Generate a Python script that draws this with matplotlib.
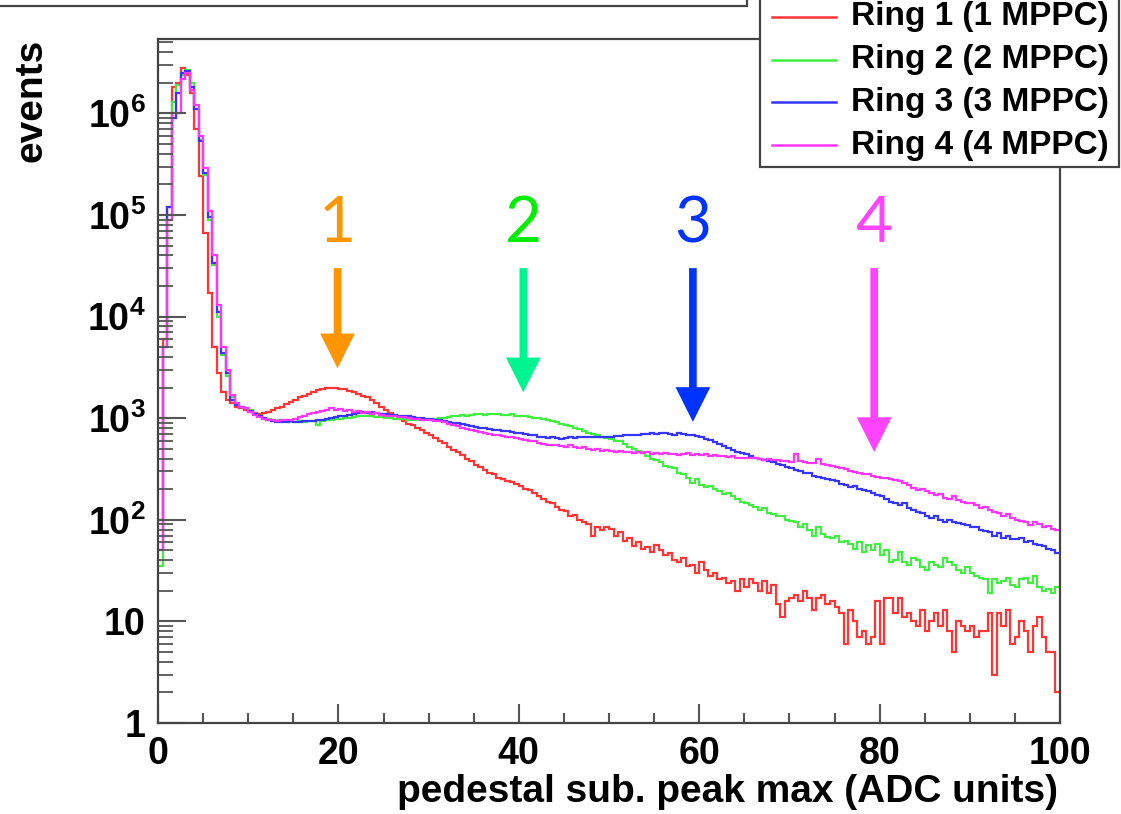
import numpy as np
import matplotlib.pyplot as plt
from matplotlib.ticker import MultipleLocator, LogLocator, FixedLocator, NullFormatter, FuncFormatter
from matplotlib.patches import Rectangle
from matplotlib.lines import Line2D

# bins of 0.5 ADC from 0 to 100
bin_edges = np.linspace(0, 100, 201)

ring1 = [50, 6000, 1.2e5, 1.8e6, 2.0e6, 2.8e6, 2.4e6, 1.6e6, 7.0e5, 2.4e5,
         6.6e4, 1.7e4, 5.0e3, 2.8e3, 1.8e3, 1.5e3, 1.4e3, 1.3e3, 1.25e3, 1.2e3,
         1150, 1120, 1100, 1120, 1150, 1200, 1250, 1300, 1380, 1450,
         1520, 1600, 1650, 1720, 1800, 1880, 1950, 2000, 2000, 2000,
         1950, 1950, 1850, 1800, 1750, 1650, 1600, 1500, 1420, 1300,
         1200, 1120, 1050, 990, 940, 880, 850, 800, 760, 720,
         680, 640, 600, 570, 520, 490, 470, 430, 400, 380,
         350, 330, 310, 290, 285, 260, 250, 240, 235, 225,
         215, 200, 195, 185, 170, 160, 150, 148, 135, 125,
         122, 110, 112, 100, 95, 90, 70, 84, 80, 85,
         82, 70, 75, 62, 66, 55, 60, 52, 54, 48,
         56, 50, 45, 47, 40, 38, 42, 35, 36, 30,
         38, 32, 28, 30, 26, 27, 24, 25, 20, 26,
         22, 26, 24, 20, 25, 19, 23, 15, 11, 16,
         17, 18, 16, 20, 17, 13, 17, 18, 15, 16,
         14, 12, 6, 13, 10, 7, 8, 6, 7, 16,
         6, 17, 17, 12, 17, 11, 12, 10, 9, 13,
         8, 10, 12, 9, 13, 8, 5, 10, 9, 8,
         9, 7, 8, 8, 12, 3, 12, 9, 13, 6,
         7, 10, 8, 5, 9, 11, 7, 5, 5, 2]

ring2 = [35, 5000, 1.0e5, 1.3e6, 1.9e6, 2.4e6, 2.7e6, 2.0e6, 1.1e6, 5.5e5,
         2.5e5, 9.0e4, 3.2e4, 1.0e4, 4.2e3, 2.6e3, 1.6e3, 1.4e3, 1.3e3, 1.25e3,
         1200, 1100, 1050, 1000, 980, 960, 950, 940, 930, 920,
         920, 930, 920, 940, 930, 860, 940, 950, 960, 980,
         990, 1000, 1010, 1020, 1040, 1050, 1050, 1040, 1030, 1020,
         1010, 1000, 990, 980, 980, 970, 970, 960, 970, 980,
         980, 990, 1000, 1010, 1030, 1040, 1050, 1070, 1060, 1080,
         1090, 1100, 1080, 1110, 1100, 1090, 1080, 1070, 1100, 1060,
         1050, 1040, 1020, 1010, 1000, 990, 960, 940, 920, 880,
         860, 830, 800, 780, 750, 720, 700, 680, 660, 640,
         630, 600, 590, 560, 520, 500, 480, 470, 420, 400,
         390, 370, 340, 330, 320, 290, 280, 260, 230, 250,
         220, 210, 215, 200, 190, 180, 185, 170, 160, 150,
         145, 140, 135, 125, 132, 118, 115, 108, 110, 100,
         98, 95, 85, 90, 80, 70, 85, 72, 68, 66,
         70, 60, 62, 58, 52, 60, 48, 56, 50, 58,
         45, 50, 38, 40, 48, 38, 36, 42, 40, 34,
         32, 38, 36, 34, 42, 38, 36, 32, 30, 34,
         30, 28, 27, 26, 19, 26, 24, 25, 27, 23,
         22, 26, 27, 24, 28, 22, 20, 21, 19, 22]

ring3 = [100, 5000, 1.2e5, 9.0e5, 1.6e6, 2.5e6, 2.6e6, 1.8e6, 1.1e6, 5.4e5,
         2.6e5, 9.5e4, 3.4e4, 1.1e4, 4.4e3, 2.8e3, 1.5e3, 1.35e3, 1.3e3, 1.25e3,
         1180, 1100, 1050, 1000, 960, 930, 920, 910, 920, 930,
         920, 920, 930, 940, 940, 950, 960, 980, 1000, 1020,
         1040, 1060, 1080, 1090, 1120, 1140, 1130, 1150, 1120, 1100,
         1100, 1080, 1070, 1060, 1050, 1040, 1030, 1010, 1000, 990,
         980, 970, 950, 945, 920, 900, 890, 870, 850, 840,
         820, 810, 800, 780, 770, 760, 740, 740, 730, 720,
         710, 700, 690, 680, 660, 650, 640, 650, 640, 630,
         640, 650, 640, 650, 660, 650, 660, 650, 660, 650,
         660, 670, 670, 680, 690, 680, 690, 700, 700, 710,
         700, 720, 710, 700, 690, 720, 700, 690, 680, 670,
         650, 630, 610, 580, 560, 530, 510, 490, 470, 455,
         440, 425, 410, 400, 390, 380, 370, 355, 345, 330,
         320, 310, 300, 290, 290, 270, 265, 255, 250, 245,
         240, 225, 220, 210, 215, 200, 195, 190, 185, 175,
         170, 160, 150, 145, 140, 145, 130, 125, 120, 118,
         110, 105, 108, 100, 95, 100, 96, 92, 90, 88,
         85, 84, 80, 78, 75, 70, 74, 66, 70, 65,
         64, 66, 60, 62, 58, 56, 55, 52, 50, 47]

ring4 = [50, 5000, 9.0e4, 1.0e6, 1.0e6, 2.2e6, 2.5e6, 1.7e6, 1.2e6, 6.0e5,
         2.9e5, 1.1e5, 4.0e4, 1.3e4, 5.0e3, 3.0e3, 1.7e3, 1.4e3, 1.3e3, 1.25e3,
         1150, 1080, 1020, 990, 960, 950, 940, 950, 960, 970,
         990, 1020, 1050, 1100, 1120, 1150, 1180, 1200, 1250, 1200,
         1220, 1180, 1200, 1150, 1170, 1130, 1150, 1100, 1120, 1080,
         1060, 1050, 1040, 1030, 1020, 1000, 990, 980, 970, 960,
         950, 940, 930, 910, 880, 850, 830, 810, 790, 760,
         740, 730, 720, 700, 690, 680, 670, 660, 650, 640,
         630, 610, 600, 590, 570, 560, 550, 545, 540, 530,
         525, 540, 520, 510, 520, 500, 490, 500, 480, 490,
         480, 470, 475, 460, 470, 455, 465, 450, 460, 445,
         450, 440, 455, 440, 445, 435, 440, 450, 435, 440,
         430, 440, 425, 430, 420, 425, 415, 420, 405, 410,
         410, 405, 410, 400, 390, 400, 385, 390, 380, 375,
         370, 440, 380, 370, 360, 365, 400, 355, 350, 340,
         330, 320, 315, 300, 295, 290, 285, 280, 270, 265,
         260, 255, 250, 245, 240, 230, 220, 205, 195, 200,
         190, 185, 175, 180, 165, 160, 170, 155, 150, 145,
         145, 140, 130, 135, 125, 120, 118, 110, 115, 105,
         100, 98, 95, 88, 96, 90, 85, 87, 82, 80]

series_names = ['Ring 1 (1 MPPC)', 'Ring 2 (2 MPPC)', 'Ring 3 (3 MPPC)', 'Ring 4 (4 MPPC)']
series_colors = ['#ff3535', '#40ee40', '#3535ff', '#ff35ff']

# peak markers: label, x position, arrow tip height
peak_labels = ['1', '2', '3', '4']
peak_x = [19.9, 40.5, 59.3, 79.4]
peak_tip = [3.1e3, 1.8e3, 920, 465]
label_colors = ['#ff9500', '#00ee00', '#0033ff', '#ff44ff']
arrow_colors = ['#ff9500', '#00f590', '#0033ff', '#ff44ff']

y_decades = [1, 10, 1e2, 1e3, 1e4, 1e5, 1e6]

plt.rcParams['font.family'] = ['Liberation Sans', 'DejaVu Sans']
plt.rcParams['font.weight'] = 'bold'
plt.rcParams['axes.labelweight'] = 'bold'
plt.rcParams['mathtext.fontset'] = 'custom'
plt.rcParams['mathtext.rm'] = 'Liberation Sans:bold'
plt.rcParams['mathtext.bf'] = 'Liberation Sans:bold'
plt.rcParams['mathtext.default'] = 'bf'

W, H = 1121, 814
fig = plt.figure(figsize=(W / 100, H / 100), dpi=100)
ax = fig.add_axes([158 / W, 1 - 723 / H, 902 / W, 684 / H])

for vals, col in zip([ring1, ring2, ring3, ring4], series_colors):
    ax.stairs(vals, bin_edges, baseline=None, color=col, lw=1.6)

ax.set_yscale('log')
ax.set_xlim(0, 100)
ax.set_ylim(1, 5.4e6)

for s in ax.spines.values():
    s.set_color('#444444')
    s.set_linewidth(1.6)

ax.xaxis.set_major_locator(MultipleLocator(20))
ax.xaxis.set_minor_locator(MultipleLocator(5))
ax.yaxis.set_major_locator(FixedLocator(y_decades))
ax.yaxis.set_minor_locator(LogLocator(base=10, subs=range(2, 10)))
ax.yaxis.set_minor_formatter(NullFormatter())


def ylab(v, pos):
    n = int(round(np.log10(v)))
    if n == 0:
        return '1'
    if n == 1:
        return '10'
    return r'$10^{%d}$' % n


ax.yaxis.set_major_formatter(FuncFormatter(ylab))
ax.tick_params(axis='x', which='major', direction='in', length=14, width=1.5,
               color='#555555', pad=9, labelsize=27)
ax.tick_params(axis='x', which='minor', direction='in', length=7, width=1.5, color='#555555')
ax.tick_params(axis='y', which='major', direction='in', length=20, width=1.5,
               color='#555555', pad=9, labelsize=27)
ax.tick_params(axis='y', which='minor', direction='in', length=11, width=1.3, color='#555555')

ax.set_xlabel('pedestal sub. peak max (ADC units)', fontsize=28, fontweight='bold', loc='right')
ax.xaxis.set_label_coords(0.998, -0.074)
ax.set_ylabel('events', fontsize=28, fontweight='bold', loc='top')
ax.yaxis.set_label_coords(-0.12, 1.0)

for lab, x, tip, tc, acol in zip(peak_labels, peak_x, peak_tip, label_colors, arrow_colors):
    ax.text(x, 5.4e4, lab, color=tc, fontsize=46, family='Lato', fontweight='normal',
            ha='center', va='baseline')
    ax.annotate('', xy=(x, tip), xytext=(x, 3.0e4),
                arrowprops=dict(arrowstyle='simple,head_length=2.5,head_width=2.5,tail_width=0.55',
                                mutation_scale=10, color=acol, lw=0, shrinkA=0, shrinkB=0))


def fx(px):
    return px / W


def fy(py):
    return 1 - py / H


# title box, mostly cut off at the top
fig.add_artist(Rectangle((fx(-10), fy(6)), fx(757), 0.2, transform=fig.transFigure,
                         facecolor='white', edgecolor='#444444', lw=1.6))

# legend box, cut off at the top
fig.add_artist(Rectangle((fx(760), fy(167)), fx(359), 0.3, transform=fig.transFigure,
                         facecolor='white', edgecolor='#444444', lw=1.6))
for i, (name, col) in enumerate(zip(series_names, series_colors)):
    yy = 17 + 42.7 * i
    fig.add_artist(Line2D([fx(772), fx(836)], [fy(yy), fy(yy)], transform=fig.transFigure,
                          color=col, lw=1.8))
    fig.text(fx(851), fy(yy), name, fontsize=24, fontweight='bold', ha='left', va='center')

fig.savefig('out.png', dpi=100)
